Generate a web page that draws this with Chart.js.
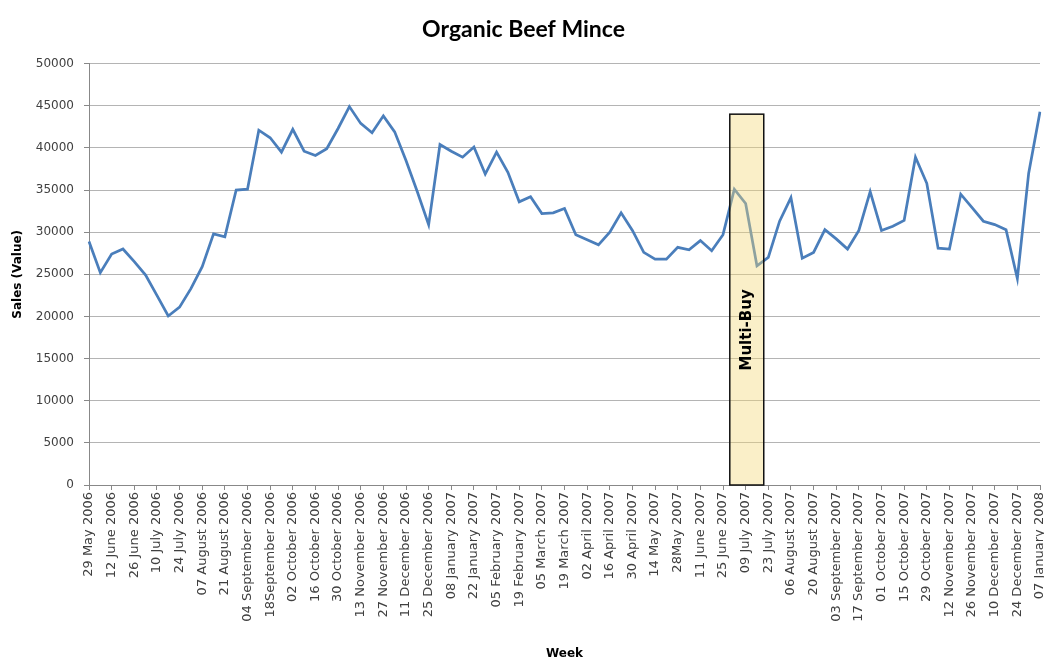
<!DOCTYPE html>
<html><head><meta charset="utf-8">
<script src="https://cdn.jsdelivr.net/npm/chart.js@4.4.0/dist/chart.umd.min.js"></script>
<style>html,body{margin:0;padding:0;background:#fff;overflow:hidden}#wrap{position:absolute;left:0;top:0;width:1044px;height:661px}</style>
</head><body><div id="wrap"><canvas id="c"></canvas></div>
<script>
const weeks = [
'29 May 2006','05 June 2006','12 June 2006','19 June 2006','26 June 2006','03 July 2006','10 July 2006','17 July 2006',
'24 July 2006','31 July 2006','07 August 2006','14 August 2006','21 August 2006','28 August 2006','04 September 2006',
'11 September 2006','18September 2006','25 September 2006','02 October 2006','09 October 2006','16 October 2006',
'23 October 2006','30 October 2006','06 November 2006','13 November 2006','20 November 2006','27 November 2006',
'04 December 2006','11 December 2006','18 December 2006','25 December 2006','01 January 2007','08 January 2007',
'15 January 2007','22 January 2007','29 January 2007','05 February 2007','12 February 2007','19 February 2007',
'26 February 2007','05 March 2007','12 March 2007','19 March 2007','26 March 2007','02 April 2007','09 April 2007',
'16 April 2007','23 April 2007','30 April 2007','07 May 2007','14 May 2007','21 May 2007','28May 2007','04 June 2007',
'11 June 2007','18 June 2007','25 June 2007','02 July 2007','09 July 2007','16 July 2007','23 July 2007','30 July 2007',
'06 August 2007','13 August 2007','20 August 2007','27 August 2007','03 September 2007','10 September 2007',
'17 September 2007','24 September 2007','01 October 2007','08 October 2007','15 October 2007','22 October 2007',
'29 October 2007','05 November 2007','12 November 2007','19 November 2007','26 November 2007','03 December 2007',
'10 December 2007','17 December 2007','24 December 2007','31 December 2007','07 January 2008'
];
const sales = [
28900,25200,27400,28000,26500,24900,22500,20050,21100,23300,25900,29800,29450,35000,35100,
42100,41200,39500,42200,39600,39100,39900,42300,44900,42900,41800,43800,41900,38500,34800,
30900,40400,39600,38900,40100,36900,39500,37100,33600,34200,32200,32300,32800,29700,29100,
28500,30000,32300,30200,27600,26800,26800,28200,27900,29000,27800,29700,35100,33400,26000,
27000,31300,34100,26900,27600,30300,29200,28000,30200,34800,30200,30700,31400,38900,35800,
28100,28000,34500,32900,31300,30900,30300,24500,37000,44300
];
const chartTitle = 'Organic Beef Mince';
const xTitle = 'Week';
const yTitle = 'Sales (Value)';
const promoLabel = 'Multi-Buy';
const promoStart = 56.6, promoEnd = 59.6, promoTop = 44000, promoTextAt = 18400;

const promoBox = {
  id: 'promoBox',
  afterDatasetsDraw(chart) {
    const {ctx, scales: {x, y}} = chart;
    const x1 = x.getPixelForValue(promoStart), x2 = x.getPixelForValue(promoEnd);
    const y1 = y.getPixelForValue(promoTop), y2 = y.getPixelForValue(0);
    ctx.save();
    ctx.fillStyle = 'rgba(243,215,118,0.4)';
    ctx.fillRect(x1, y1, x2 - x1, y2 - y1);
    ctx.strokeStyle = '#111'; ctx.lineWidth = 1.5;
    ctx.strokeRect(x1, y1, x2 - x1, y2 - y1);
    ctx.translate((x1 + x2) / 2, y.getPixelForValue(promoTextAt));
    ctx.rotate(-Math.PI / 2);
    ctx.font = 'bold 15px "DejaVu Sans"';
    ctx.fillStyle = '#000'; ctx.textAlign = 'center'; ctx.textBaseline = 'middle';
    ctx.fillText(promoLabel, 0, 0);
    ctx.restore();
  }
};

new Chart(document.getElementById('c'), {
  type: 'line',
  data: {
    labels: weeks,
    datasets: [{data: sales, borderColor: '#4A7EBB', borderWidth: 2.75, pointRadius: 0, tension: 0, fill: false}]
  },
  plugins: [promoBox],
  options: {
    responsive: true, maintainAspectRatio: false, animation: false,
    layout: {padding: {left: 7, right: 4, top: 0, bottom: 0}},
    plugins: {
      legend: {display: false}, tooltip: {enabled: false},
      title: {display: true, text: chartTitle, color: '#000',
        font: {family: 'Lato', size: 23, weight: 'bold'}, padding: {top: 16, bottom: 20}}
    },
    scales: {
      x: {
        type: 'category', offset: false,
        grid: {drawOnChartArea: false, drawTicks: true, tickLength: 5,
          color: (c) => (c.index % 2 === 0 ? '#888' : 'rgba(0,0,0,0)')},
        border: {color: '#888'},
        ticks: {autoSkip: false, minRotation: 90, maxRotation: 90, padding: 2, color: '#404040',
          font: {family: 'DejaVu Sans', size: 13},
          callback: (v, i) => (i % 2 === 0 ? weeks[i] : '')},
        title: {display: true, text: xTitle, color: '#000',
          font: {family: 'DejaVu Sans', size: 12, weight: 'bold'}, padding: {top: 0, bottom: 0}},
        afterFit: (s) => { s.height = 176; s.paddingLeft = 0; s.paddingRight = 0; }
      },
      y: {
        min: 0, max: 50000,
        ticks: {stepSize: 5000, padding: 10, color: '#404040',
          font: {family: 'DejaVu Sans', size: 12}, callback: (v) => String(v)},
        grid: {color: '#b4b4b4', tickLength: 5, tickColor: '#888'},
        border: {color: '#888'},
        title: {display: true, text: yTitle, color: '#000',
          font: {family: 'DejaVu Sans', size: 12, weight: 'bold'}, padding: {top: 4, bottom: 4}},
        afterFit: (s) => { s.width = 82; s.paddingTop = 0; s.paddingBottom = 0; }
      }
    }
  }
});
</script></body></html>
